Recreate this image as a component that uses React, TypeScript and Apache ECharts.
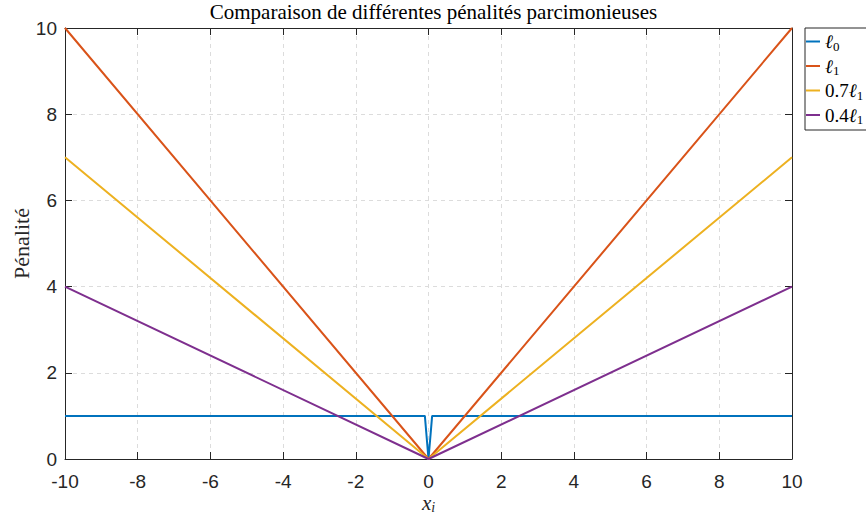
import React, { useEffect, useRef } from "react";
import * as echarts from "echarts";

// Penalty curves sampled at their breakpoints
const l0X = [-10, -0.1, 0, 0.1, 10];
const l0Y = [1, 1, 0, 1, 1];
const linX = [-10, 0, 10];
const l1Y = [10, 0, 10];
const l07Y = [7, 0, 7];
const l04Y = [4, 0, 4];

const seriesNames = ["l0", "l1", "0.7l1", "0.4l1"];
const seriesColors = ["#0072BD", "#D95319", "#EDB120", "#7E2F8E"];
const legendLabels: Record<string, string> = {
  l0: "{i|ℓ}{s|0}",
  l1: "{i|ℓ}{s|1}",
  "0.7l1": "{n|0.7}{i|ℓ}{s|1}",
  "0.4l1": "{n|0.4}{i|ℓ}{s|1}",
};

const xTicks = { min: -10, max: 10, interval: 2 };
const yTicks = { min: 0, max: 10, interval: 2 };

const titleText = "Comparaison de différentes pénalités parcimonieuses";
const yName = "Pénalité";

const SERIF = "'Liberation Serif', 'DejaVu Serif', serif";
const SANS = "'Liberation Sans', Arial, sans-serif";

const pairs = (xs: number[], ys: number[]) => xs.map((x, i) => [x, ys[i]]);

export default function App() {
  const ref = useRef<HTMLDivElement>(null);
  useEffect(() => {
    if (!ref.current) return;
    const chart = echarts.init(ref.current, null, { renderer: "svg" });
    const axisLine = { show: true, onZero: false, lineStyle: { color: "#262626", width: 1 } };
    const tick = { show: true, inside: true, length: 7, lineStyle: { color: "#262626" } };
    const split = { show: true, lineStyle: { color: "#dcdcdc", type: [4, 4] as any, width: 1 } };
    const ySeries = [l0Y, l1Y, l07Y, l04Y];
    chart.setOption({
      animation: false,
      backgroundColor: "#ffffff",
      title: {
        text: titleText,
        left: 428.5,
        textAlign: "center",
        top: -4,
        textStyle: { fontFamily: SERIF, fontSize: 21, fontWeight: "normal", color: "#000" },
      },
      grid: { left: 65, right: 74, top: 28, bottom: 56, outerBoundsMode: "none", containLabel: false },
      legend: {
        orient: "vertical",
        left: 805,
        top: 28,
        padding: [4, 4, 4, 1],
        itemGap: 4,
        itemWidth: 14,
        itemHeight: 22,
        borderColor: "#262626",
        borderWidth: 1,
        borderRadius: 0,
        backgroundColor: "#fff",
        icon: "path://M0,10L14,10L14,12L0,12Z",
        data: seriesNames,
        formatter: (name: string) => legendLabels[name],
        textStyle: {
          fontFamily: SERIF,
          fontSize: 19,
          color: "#000",
          rich: {
            i: { fontFamily: SERIF, fontStyle: "italic", fontSize: 19, color: "#000" },
            n: { fontFamily: SERIF, fontSize: 19, color: "#000" },
            s: { fontFamily: SERIF, fontSize: 13, color: "#000", padding: [9, 0, 0, 0] },
          },
        },
      },
      xAxis: [
        {
          type: "value",
          position: "bottom",
          ...xTicks,
          axisLine,
          axisTick: tick,
          splitLine: split,
          axisLabel: { fontFamily: SANS, fontSize: 19, lineHeight: 17, color: "#262626", margin: 14 },
          name: "{x|x}{s|i}",
          nameLocation: "middle",
          nameGap: 35,
          nameMoveOverlap: false,
          nameTextStyle: {
            rich: {
              x: { fontFamily: SERIF, fontStyle: "italic", fontSize: 21, color: "#262626", lineHeight: 18 },
              s: { fontFamily: SERIF, fontStyle: "italic", fontSize: 14, color: "#262626", padding: [8, 0, 0, 0], lineHeight: 12 },
            },
          },
        },
        {
          type: "value",
          position: "top",
          ...xTicks,
          axisLine,
          axisTick: tick,
          splitLine: { show: false },
          axisLabel: { show: false },
        },
      ],
      yAxis: [
        {
          type: "value",
          position: "left",
          ...yTicks,
          axisLine,
          axisTick: tick,
          splitLine: split,
          axisLabel: { fontFamily: SANS, fontSize: 19, color: "#262626", margin: 8 },
          name: yName,
          nameLocation: "middle",
          nameGap: 33,
          nameMoveOverlap: false,
          nameRotate: 90,
          nameTextStyle: { fontFamily: SERIF, fontSize: 22, color: "#262626" },
        },
        {
          type: "value",
          position: "right",
          ...yTicks,
          axisLine,
          axisTick: tick,
          splitLine: { show: false },
          axisLabel: { show: false },
        },
      ],
      series: seriesNames.map((name, k) => ({
        name,
        type: "line",
        xAxisIndex: 0,
        yAxisIndex: 0,
        data: pairs(k === 0 ? l0X : linX, ySeries[k]),
        symbol: "none",
        clip: false,
        lineStyle: { width: 2, color: seriesColors[k] },
        itemStyle: { color: seriesColors[k] },
      })),
    });
    return () => chart.dispose();
  }, []);
  return (
    <div
      ref={ref}
      style={{ position: "absolute", left: 0, top: 0, width: 866, height: 515 }}
    />
  );
}
